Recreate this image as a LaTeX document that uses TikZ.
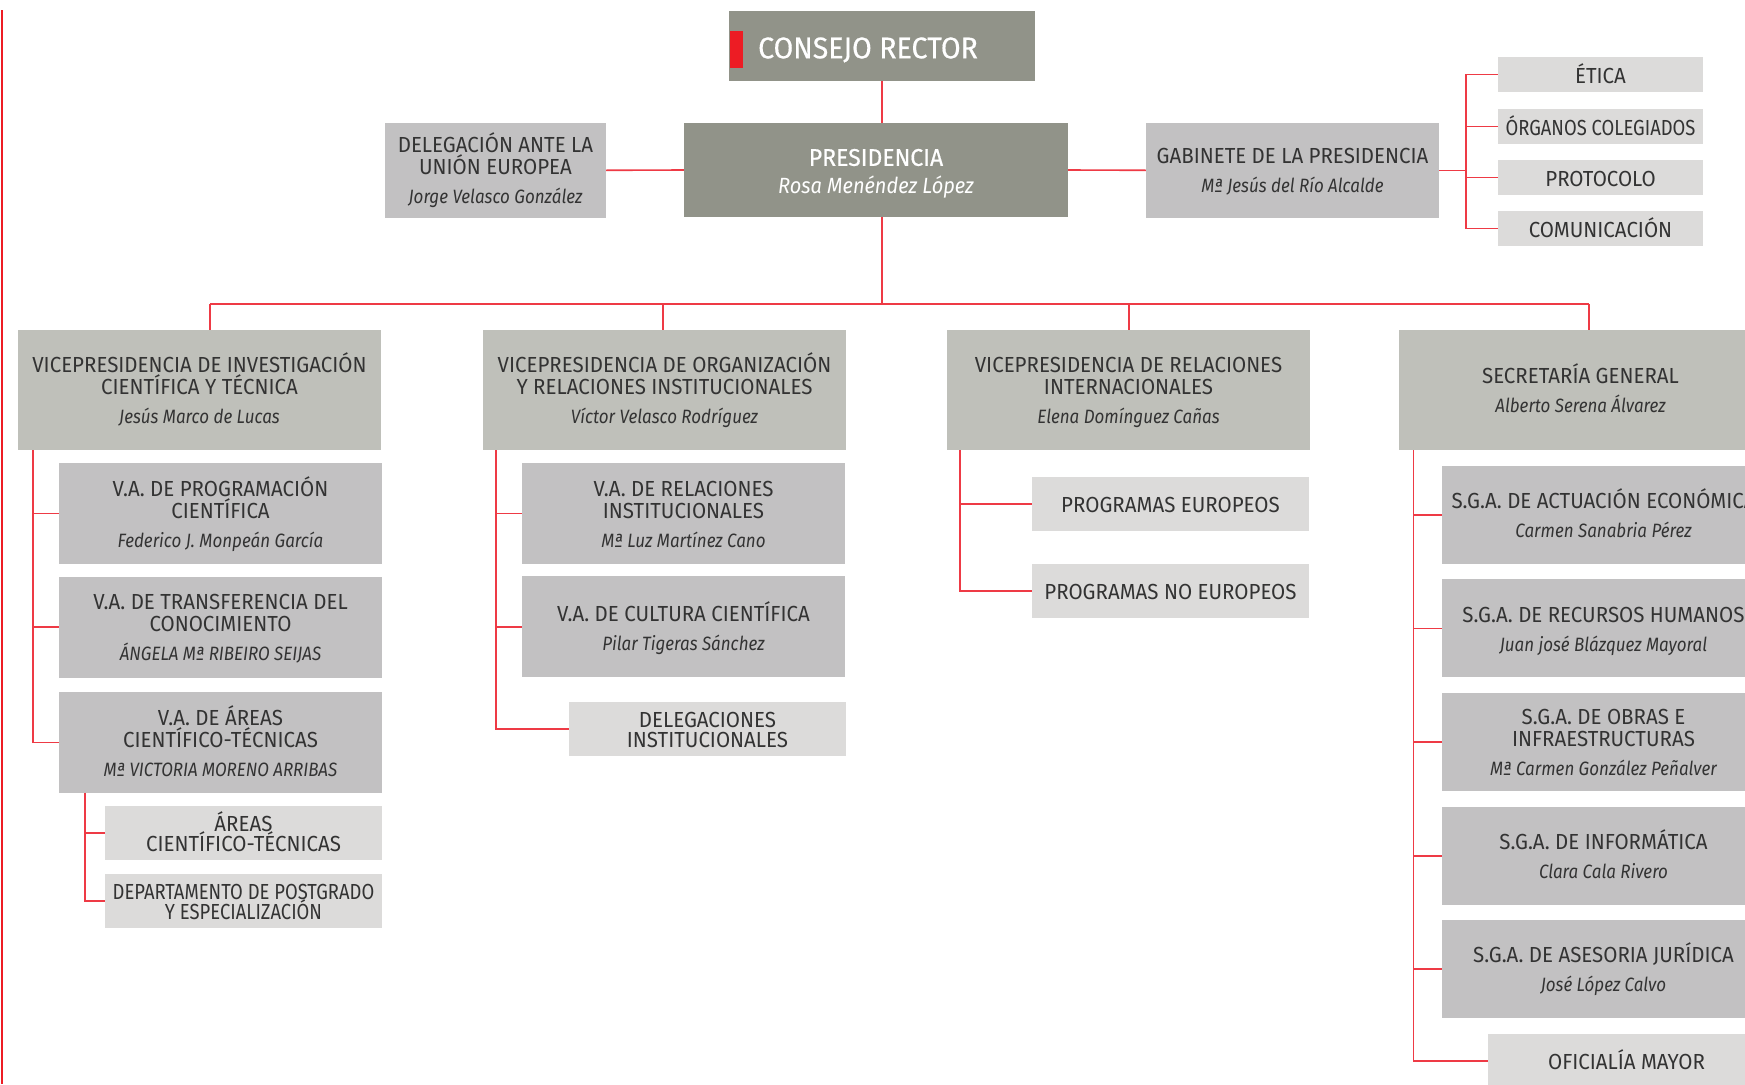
\documentclass[tikz,border=0pt]{standalone}
\usepackage{fontspec}
\setmainfont{Fira Sans}[FakeStretch=0.94]
\newfontfamily\nmfam{Fira Sans}[FakeStretch=0.88]
\newfontfamily\condfam{Fira Sans}[FakeStretch=0.845]
\newfontfamily\whfam{Fira Sans}[FakeStretch=0.95, FakeBold=0.5]
\newfontfamily\whnmfam{Fira Sans}[FakeStretch=0.91]
\definecolor{darkbox}{HTML}{919389}
\definecolor{midbox}{HTML}{BFC0BA}
\definecolor{greybox}{HTML}{C2C1C2}
\definecolor{lightbox}{HTML}{DCDBDA}
\definecolor{linered}{HTML}{EE3A45}
\definecolor{barred}{HTML}{ED1C24}
\definecolor{txt}{HTML}{333333}
\newcommand\ttlfont{\fontsize{21.8}{22}\selectfont}
\newcommand\nmfont{\nmfam\fontsize{19.3}{20}\selectfont\itshape}
\newcommand\stk[1]{\vbox{\offinterlineskip\halign{\hfil##\hfil\cr#1\crcr}}}
\newcommand\Ttl[1]{\rule{0pt}{15pt}\smash{#1}}
\newcommand\Nme[1]{{\nmfont\rule{0pt}{13pt}\smash{#1}}}
\newcommand\gpT{\noalign{\vskip7pt}}
\newcommand\gpL{\noalign{\vskip5pt}}
\newcommand\gpN{\noalign{\vskip16pt}}
\newcommand\gpP[1]{\noalign{\vskip#1pt}}
\tikzset{
  box/.style={rectangle, inner sep=0pt, text=txt, font=\ttlfont},
  darkb/.style={box, fill=darkbox, text=white},
  vpb/.style={box, fill=midbox, minimum width=363pt, minimum height=120pt},
  vab/.style={box, fill=greybox, minimum width=323pt, minimum height=100.7pt},
  sgab/.style={box, fill=greybox, minimum width=323pt, minimum height=97.7pt},
  litb/.style={box, fill=lightbox, minimum width=277pt, minimum height=54pt},
  smb/.style={box, fill=lightbox, minimum width=205pt, minimum height=34.7pt},
  conn/.style={draw=linered, line width=1.6pt},
}
\begin{document}
\begin{tikzpicture}[x=1pt,y=-1pt]
\useasboundingbox (0,0) rectangle (1745,1084);
\clip (0,0) rectangle (1745,1084);
\fill[white] (0,0) rectangle (1745,1084);
\draw[draw=barred, line width=2pt] (2,10) -- (2,1084);

% top
\node[darkb, minimum width=306pt, minimum height=70pt] (consejo) at (882,46)
  {\stk{\gpP{4}\whfam\fontsize{30}{30}\selectfont\rule{0pt}{20.7pt}\smash{CONSEJO RECTOR}\kern28pt}};
\fill[barred] (730,31) rectangle (743,68);
\node[darkb, minimum width=384pt, minimum height=94pt] (pres) at (876,170)
  {\stk{\gpP{3}\whfam\fontsize{24.2}{24}\selectfont\rule{0pt}{16.7pt}\smash{PRESIDENCIA}\cr
   \gpP{13}\whnmfam\fontsize{22}{22}\selectfont\itshape\rule{0pt}{15pt}\smash{Rosa Menéndez López}}};
\node[box, fill=greybox, minimum width=221pt, minimum height=94.7pt] (deleg) at (495.5,170.3)
  {\stk{\gpP{1}\Ttl{DELEGACIÓN ANTE LA}\cr\gpT\Ttl{UNIÓN EUROPEA}\cr\gpN\Nme{Jorge Velasco González}}};
\node[box, fill=greybox, minimum width=293pt, minimum height=94.7pt] (gab) at (1292.5,170.3)
  {\stk{\gpP{1}\Ttl{GABINETE DE LA PRESIDENCIA}\cr\gpN\Nme{Mª Jesús del Río Alcalde}}};
\node[smb] (etica) at (1600.5,74.3) {\stk{\gpP{3}\Ttl{ÉTICA}}};
\node[smb] (org) at (1600.5,126.3) {\stk{\gpP{3}\condfam\Ttl{ÓRGANOS COLEGIADOS}}};
\node[smb] (prot) at (1600.5,177.3) {\stk{\gpP{3}\Ttl{PROTOCOLO}}};
\node[smb] (com) at (1600.5,228.3) {\stk{\gpP{3}\Ttl{COMUNICACIÓN}}};

% level 2
\node[vpb] (vpinv) at (199.5,390)
  {\stk{\gpP{1}\Ttl{VICEPRESIDENCIA DE INVESTIGACIÓN}\cr\gpT\Ttl{CIENTÍFICA Y TÉCNICA}\cr\gpN\Nme{Jesús Marco de Lucas}}};
\node[vpb] (vporg) at (664.5,390)
  {\stk{\gpP{1}\Ttl{VICEPRESIDENCIA DE ORGANIZACIÓN}\cr\gpT\Ttl{Y RELACIONES INSTITUCIONALES}\cr\gpN\Nme{Víctor Velasco Rodríguez}}};
\node[vpb] (vprel) at (1128.5,390)
  {\stk{\gpP{1}\Ttl{VICEPRESIDENCIA DE RELACIONES}\cr\gpT\Ttl{INTERNACIONALES}\cr\gpN\Nme{Elena Domínguez Cañas}}};
\node[vpb] (sec) at (1580.5,390)
  {\stk{\gpP{1}\Ttl{SECRETARÍA GENERAL}\cr\gpN\Nme{Alberto Serena Álvarez}}};

% investigacion column
\node[vab] (vaprog) at (220.5,513.3)
  {\stk{\gpP{1.5}\Ttl{V.A. DE PROGRAMACIÓN}\cr\gpT\Ttl{CIENTÍFICA}\cr\gpN\Nme{Federico J. Monpeán García}}};
\node[vab] (vatrans) at (220.5,627.2)
  {\stk{\gpP{1.5}\Ttl{V.A. DE TRANSFERENCIA DEL}\cr\gpT\Ttl{CONOCIMIENTO}\cr\gpN\Nme{ÁNGELA Mª RIBEIRO SEIJAS}}};
\node[vab] (vaareas) at (220.5,742.3)
  {\stk{\gpP{1.5}\Ttl{V.A. DE ÁREAS}\cr\gpT\Ttl{CIENTÍFICO-TÉCNICAS}\cr\gpN\Nme{Mª VICTORIA MORENO ARRIBAS}}};
\node[litb] (areasct) at (243.5,833)
  {\stk{\gpP{2}\Ttl{ÁREAS}\cr\gpL\Ttl{CIENTÍFICO-TÉCNICAS}}};
\node[litb] (dept) at (243.5,901)
  {\stk{\gpP{2}\condfam\Ttl{DEPARTAMENTO DE POSTGRADO}\cr\gpL\condfam\Ttl{Y ESPECIALIZACIÓN}}};

% organizacion column
\node[vab] (varel) at (683.5,513.3)
  {\stk{\gpP{1.5}\Ttl{V.A. DE RELACIONES}\cr\gpT\Ttl{INSTITUCIONALES}\cr\gpN\Nme{Mª Luz Martínez Cano}}};
\node[vab] (vacult) at (683.5,626.8)
  {\stk{\gpP{3}\Ttl{V.A. DE CULTURA CIENTÍFICA}\cr\gpN\Nme{Pilar Tigeras Sánchez}}};
\node[litb] (delinst) at (707.5,728.8)
  {\stk{\gpP{2}\Ttl{DELEGACIONES}\cr\gpL\Ttl{INSTITUCIONALES}}};

% relaciones internacionales column
\node[litb] (progeu) at (1170.5,503.8) {\stk{\gpP{1.5}\Ttl{PROGRAMAS EUROPEOS}}};
\node[litb] (prognoeu) at (1170.5,590.8) {\stk{\gpP{1.5}\Ttl{PROGRAMAS NO EUROPEOS}}};

% secretaria column
\node[sgab] (sgaeco) at (1603.5,514.85)
  {\stk{\gpP{2}\Ttl{S.G.A. DE ACTUACIÓN ECONÓMICA}\cr\gpN\Nme{Carmen Sanabria Pérez}}};
\node[sgab] (sgarh) at (1603.5,628.3)
  {\stk{\gpP{2}\Ttl{S.G.A. DE RECURSOS HUMANOS}\cr\gpN\Nme{Juan josé Blázquez Mayoral}}};
\node[sgab] (sgaobr) at (1603.5,741.85)
  {\stk{\gpP{1.5}\Ttl{S.G.A. DE OBRAS E}\cr\gpT\Ttl{INFRAESTRUCTURAS}\cr\gpN\Nme{Mª Carmen González Peñalver}}};
\node[sgab] (sgainf) at (1603.5,855.85)
  {\stk{\gpP{2}\Ttl{S.G.A. DE INFORMÁTICA}\cr\gpN\Nme{Clara Cala Rivero}}};
\node[sgab] (sgajur) at (1603.5,968.85)
  {\stk{\gpP{2}\Ttl{S.G.A. DE ASESORIA JURÍDICA}\cr\gpN\Nme{José López Calvo}}};
\node[litb] (ofic) at (1626.5,1061) {\stk{\gpP{1.5}\Ttl{OFICIALÍA MAYOR}}};

% connectors
\coordinate (b1) at (210,304);
\coordinate (b2) at (663,304);
\coordinate (b3) at (1128.7,304);
\coordinate (b4) at (1589,304);
\draw[conn] (consejo.south) -- (consejo.south |- pres.north);
\draw[conn] (consejo.south |- pres.south) -- (consejo.south |- b1);
\draw[conn] (deleg.east) -- (pres.west);
\draw[conn] (pres.east) -- (gab.west);
\coordinate (kg) at (1466,170.3);
\draw[conn] (gab.east) -- (kg);
\draw[conn] (etica.west) -| (kg |- com.west) -- (com.west);
\draw[conn] (kg |- org.west) -- (org.west);
\draw[conn] (kg |- prot.west) -- (prot.west);
\draw[conn] (b1) -- (b4);
\draw[conn] (b1) -- (b1 |- vpinv.north);
\draw[conn] (b2) -- (b2 |- vporg.north);
\draw[conn] (b3) -- (b3 |- vprel.north);
\draw[conn] (b4) -- (b4 |- sec.north);

\coordinate (ki) at (33,450);
\draw[conn] (ki) |- (vaareas.west);
\draw[conn] (ki |- vaprog.west) -- (vaprog.west);
\draw[conn] (ki |- vatrans.west) -- (vatrans.west);
\coordinate (ka) at (85,792.6);
\draw[conn] (ka) |- (dept.west);
\draw[conn] (ka |- areasct.west) -- (areasct.west);

\coordinate (ko) at (496,450);
\draw[conn] (ko) |- (delinst.west);
\draw[conn] (ko |- varel.west) -- (varel.west);
\draw[conn] (ko |- vacult.west) -- (vacult.west);

\coordinate (kr) at (959.7,450);
\draw[conn] (kr) |- (prognoeu.west);
\draw[conn] (kr |- progeu.west) -- (progeu.west);

\coordinate (ks) at (1413.5,450);
\draw[conn] (ks) |- (ofic.west);
\draw[conn] (ks |- sgaeco.west) -- (sgaeco.west);
\draw[conn] (ks |- sgarh.west) -- (sgarh.west);
\draw[conn] (ks |- sgaobr.west) -- (sgaobr.west);
\draw[conn] (ks |- sgainf.west) -- (sgainf.west);
\draw[conn] (ks |- sgajur.west) -- (sgajur.west);
\end{tikzpicture}
\end{document}
